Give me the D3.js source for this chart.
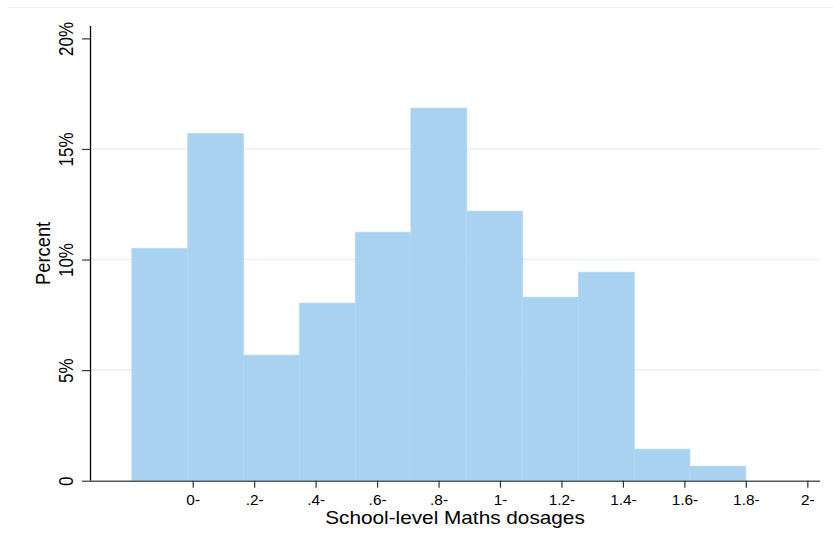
<!DOCTYPE html>
<html>
<head>
<meta charset="utf-8">
<script src="https://cdn.jsdelivr.net/npm/d3@7"></script>
<style>
  html, body { margin: 0; padding: 0; background: #ffffff; }
  svg { display: block; font-family: "Liberation Sans", Arial, sans-serif; }
</style>
</head>
<body>
<svg id="chart" width="833" height="546"></svg>
<script>
// Histogram of school-level maths dosages (11 equal-width bins)
const binEdges = [-0.198, -0.016, 0.165, 0.347, 0.529, 0.710, 0.892, 1.074, 1.255, 1.437, 1.618, 1.800];
const binPercent = [10.51, 15.70, 5.68, 8.03, 11.24, 16.85, 12.19, 8.30, 9.43, 1.43, 0.66];

const xTickValues = [0, 0.2, 0.4, 0.6, 0.8, 1, 1.2, 1.4, 1.6, 1.8, 2];
const xTickLabels = ["0-", ".2-", ".4-", ".6-", ".8-", "1-", "1.2-", "1.4-", "1.6-", "1.8-", "2-"];
const yTickValues = [0, 5, 10, 15, 20];
const yTickLabels = ["0", "5%", "10%", "15%", "20%"];

const xTitle = "School-level Maths dosages";
const yTitle = "Percent";

const bins = binPercent.map((p, i) => ({ x0: binEdges[i], x1: binEdges[i + 1], pct: p }));

const svg = d3.select("#chart");

// plot region
const plotLeft = 90, plotRight = 820, plotBottom = 480.7, plotTop = 26;

const x = d3.scaleLinear().domain([-0.3342, 2.0413]).range([plotLeft, plotRight]);
const y = d3.scaleLinear().domain([0, 20.56]).range([plotBottom, plotTop]);

const barFill = "#a8d2f0";

// faint outer frame edge
svg.append("line")
  .attr("x1", 8).attr("x2", 833).attr("y1", 7.5).attr("y2", 7.5)
  .attr("stroke", "#eef1f1").attr("stroke-width", 1);

// horizontal grid lines
svg.append("g").selectAll("line")
  .data(yTickValues.filter(v => v > 0 && v < 20))
  .join("line")
  .attr("x1", plotLeft).attr("x2", plotRight)
  .attr("y1", d => y(d)).attr("y2", d => y(d))
  .attr("stroke", "#e9f0f0").attr("stroke-width", 1.5);

// bars
svg.append("g").selectAll("rect")
  .data(bins)
  .join("rect")
  .attr("x", d => x(d.x0))
  .attr("width", d => x(d.x1) - x(d.x0))
  .attr("y", d => y(d.pct))
  .attr("height", d => y(0) - y(d.pct))
  .attr("fill", barFill)
  .attr("stroke", "#b3d8f2")
  .attr("stroke-width", 0.7);

// y axis
const yAxis = d3.axisLeft(y)
  .tickValues(yTickValues)
  .tickFormat((d, i) => yTickLabels[i])
  .tickSize(8)
  .tickSizeOuter(0);

const gy = svg.append("g").attr("transform", `translate(${plotLeft},0)`).call(yAxis);
gy.select(".domain").attr("stroke", "#000").attr("stroke-width", 1.3)
  .attr("d", `M0.5,${plotTop}V${plotBottom}`);
gy.selectAll(".tick line").attr("stroke", "#3a3a3a").attr("stroke-width", 1.2);
gy.selectAll(".tick text")
  .attr("x", null).attr("y", null).attr("dy", null)
  .attr("text-anchor", "middle")
  .attr("fill", "#000")
  .style("font-size", "17px")
  .attr("transform", "translate(-17,0) scale(1.2,1) rotate(-90)");

// x axis
const xAxis = d3.axisBottom(x)
  .tickValues(xTickValues)
  .tickFormat((d, i) => xTickLabels[i])
  .tickSize(7)
  .tickSizeOuter(0);

const gx = svg.append("g").attr("transform", `translate(0,${plotBottom})`).call(xAxis);
gx.select(".domain").attr("stroke", "#4f5a60").attr("stroke-width", 1.4)
  .attr("d", `M${plotLeft},0.5H${plotRight}`);
gx.selectAll(".tick line").attr("stroke", "#333").attr("stroke-width", 1.2);
gx.selectAll(".tick text")
  .attr("x", 0).attr("y", 24.3).attr("dy", null)
  .attr("text-anchor", "middle")
  .attr("fill", "#000")
  .style("font-size", "14px")
  .attr("transform", "scale(1.1,1)");

// axis titles
svg.append("text")
  .attr("transform", `translate(${(plotLeft + plotRight) / 2},524) scale(1.18,1)`)
  .attr("text-anchor", "middle")
  .style("font-size", "17.6px")
  .attr("fill", "#000")
  .text(xTitle);

svg.append("text")
  .attr("transform", `translate(50,${(plotTop + plotBottom) / 2}) scale(1.15,1) rotate(-90)`)
  .attr("text-anchor", "middle")
  .style("font-size", "18.3px")
  .attr("fill", "#000")
  .text(yTitle);
</script>
</body>
</html>
